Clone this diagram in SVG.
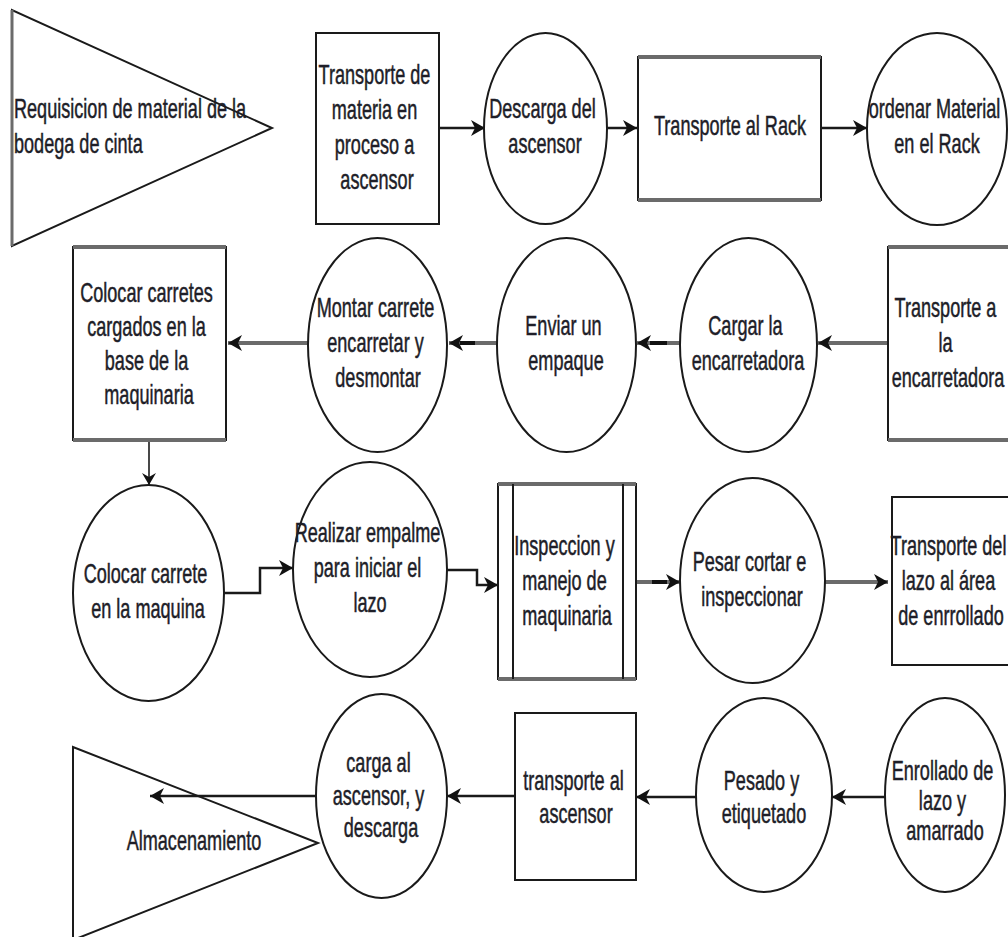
<svg xmlns="http://www.w3.org/2000/svg" width="1008" height="937" viewBox="0 0 1008 937">
  <style>
    .shape { fill: #ffffff; stroke: #1a1a1a; stroke-width: 2; }
    .edge-gray { stroke: #6b6b6b; stroke-width: 4; fill: none; }
    .line { fill: none; stroke: #1a1a1a; stroke-width: 2.5; }
    .gray { fill: none; stroke: #6b6b6b; stroke-width: 4; }
    .dash { fill: none; stroke: #111111; stroke-width: 4; }
    .thin { fill: none; stroke: #1a1a1a; stroke-width: 1.6; }
    .lbl { font-family: "Liberation Sans", Arial, sans-serif; font-size: 27px; fill: #1e1e28; stroke: #1e1e28; stroke-width: 0.5; text-anchor: middle; }
    .lbl-left { text-anchor: start; }
  </style>
  <defs>
    <marker id="arrow" viewBox="0 0 14 16" refX="14" refY="8" markerWidth="14" markerHeight="16" markerUnits="userSpaceOnUse" orient="auto">
      <path d="M0,0 L14,8 L0,16 L4,8 Z" fill="#111111"/>
    </marker>
    <marker id="arrow-small" viewBox="0 0 12 14" refX="12" refY="7" markerWidth="12" markerHeight="14" markerUnits="userSpaceOnUse" orient="auto">
      <path d="M0,0 L12,7 L0,14 L4,7 Z" fill="#111111"/>
    </marker>
  </defs>

  <!-- connectors -->
  <g id="connectors">
    <!-- row 1 -->
    <path class="line" d="M439,128 H485" marker-end="url(#arrow)"/>
    <path class="line" d="M607,128 H637" marker-end="url(#arrow)"/>
    <path class="line" d="M821,128 H867" marker-end="url(#arrow)"/>
    <!-- row 2 (right to left) -->
    <path class="gray" d="M888,343 H818" marker-end="url(#arrow)"/>
    <path class="gray" d="M680,343 H637" marker-end="url(#arrow)"/>
    <path class="dash" d="M650,343 H667"/>
    <path class="gray" d="M497,343 H449" marker-end="url(#arrow)"/>
    <path class="dash" d="M460,343 H475"/>
    <path class="gray" d="M308,343 H228" marker-end="url(#arrow)"/>
    <!-- down to row 3 -->
    <path class="thin" d="M149,440 V485" marker-end="url(#arrow-small)"/>
    <!-- row 3 -->
    <path class="line" d="M224,593 H260 V568 H293" marker-end="url(#arrow)"/>
    <path class="line" d="M447,570 H477 V585 H498" marker-end="url(#arrow)"/>
    <path class="gray" d="M636,582 H680" marker-end="url(#arrow)"/>
    <path class="dash" d="M652,582 H667"/>
    <path class="gray" d="M825,582 H888" marker-end="url(#arrow)"/>
    <!-- row 4 (right to left) -->
    <path class="line" d="M886,797 H832" marker-end="url(#arrow)"/>
    <path class="line" d="M696,797 H636" marker-end="url(#arrow)"/>
    <path class="line" d="M515,796 H447" marker-end="url(#arrow)"/>
    <path class="line" d="M316,796 H150" marker-end="url(#arrow)"/>
  </g>

  <!-- row 1 -->
  <g id="requisicion">
    <polygon points="12,10 12,246 272,128" fill="none" stroke="#1a1a1a" stroke-width="2"/>
    <line x1="12" y1="10" x2="12" y2="246" stroke="#6b6b6b" stroke-width="3"/>
    <text class="lbl lbl-left" transform="translate(14,0) scale(0.67,1)">
      <tspan x="0" y="118">Requisicion de material de la</tspan>
      <tspan x="0" y="153">bodega de cinta</tspan>
    </text>
  </g>

  <g id="transporte-ascensor">
    <rect class="shape" x="316" y="33" width="123" height="191"/>
    <text class="lbl" transform="translate(377,0) scale(0.67,1)">
      <tspan x="0" y="84">Transporte de</tspan>
      <tspan x="0" y="119">materia en</tspan>
      <tspan x="0" y="154">proceso a</tspan>
      <tspan x="0" y="189">ascensor</tspan>
    </text>
  </g>

  <g id="descarga-ascensor">
    <ellipse class="shape" cx="545.5" cy="128.5" rx="61.5" ry="95.5"/>
    <text class="lbl" transform="translate(545,0) scale(0.67,1)">
      <tspan x="0" y="118">Descarga del</tspan>
      <tspan x="0" y="153">ascensor</tspan>
    </text>
  </g>

  <g id="transporte-rack">
    <rect class="shape" x="638" y="57" width="183" height="143"/>
    <line class="edge-gray" x1="638" y1="57" x2="821" y2="57"/>
    <line class="edge-gray" x1="638" y1="200" x2="821" y2="200"/>
    <text class="lbl" transform="translate(730,0) scale(0.67,1)">
      <tspan x="0" y="135">Transporte al Rack</tspan>
    </text>
  </g>

  <g id="ordenar-material">
    <ellipse class="shape" cx="937" cy="129" rx="70" ry="96"/>
    <text class="lbl" transform="translate(937,0) scale(0.67,1)">
      <tspan x="0" y="118">ordenar Material</tspan>
      <tspan x="0" y="153">en el Rack</tspan>
    </text>
  </g>

  <!-- row 2 -->
  <g id="transporte-encarretadora">
    <rect class="shape" x="888" y="247" width="130" height="193"/>
    <line class="edge-gray" x1="888" y1="247" x2="1010" y2="247"/>
    <line class="edge-gray" x1="888" y1="440" x2="1010" y2="440"/>
    <text class="lbl" transform="translate(948,0) scale(0.67,1)">
      <tspan x="0" y="317">Transporte a</tspan>
      <tspan x="0" y="352">la</tspan>
      <tspan x="0" y="387">encarretadora</tspan>
    </text>
  </g>

  <g id="cargar-encarretadora">
    <ellipse class="shape" cx="748.5" cy="345" rx="68.5" ry="107"/>
    <text class="lbl" transform="translate(748,0) scale(0.67,1)">
      <tspan x="0" y="335">Cargar la</tspan>
      <tspan x="0" y="370">encarretadora</tspan>
    </text>
  </g>

  <g id="enviar-empaque">
    <ellipse class="shape" cx="566.5" cy="345" rx="69.5" ry="107"/>
    <text class="lbl" transform="translate(566,0) scale(0.67,1)">
      <tspan x="0" y="335">Enviar un</tspan>
      <tspan x="0" y="370">empaque</tspan>
    </text>
  </g>

  <g id="montar-carrete">
    <ellipse class="shape" cx="377.5" cy="345" rx="69.5" ry="107"/>
    <text class="lbl" transform="translate(378,0) scale(0.67,1)">
      <tspan x="0" y="317">Montar carrete</tspan>
      <tspan x="0" y="352">encarretar y</tspan>
      <tspan x="0" y="387">desmontar</tspan>
    </text>
  </g>

  <g id="colocar-carretes">
    <rect class="shape" x="73" y="247" width="153" height="193"/>
    <line class="edge-gray" x1="73" y1="247" x2="226" y2="247"/>
    <line class="edge-gray" x1="73" y1="440" x2="226" y2="440"/>
    <text class="lbl" transform="translate(149,0) scale(0.67,1)">
      <tspan x="0" y="302">Colocar carretes</tspan>
      <tspan x="0" y="336">cargados en la</tspan>
      <tspan x="0" y="370">base de la</tspan>
      <tspan x="0" y="404">maquinaria</tspan>
    </text>
  </g>

  <!-- row 3 -->
  <g id="colocar-carrete">
    <ellipse class="shape" cx="148.5" cy="593" rx="75.5" ry="108"/>
    <text class="lbl" transform="translate(148,0) scale(0.67,1)">
      <tspan x="0" y="583">Colocar carrete</tspan>
      <tspan x="0" y="618">en la maquina</tspan>
    </text>
  </g>

  <g id="realizar-empalme">
    <ellipse class="shape" cx="370" cy="569.5" rx="77" ry="107.5"/>
    <text class="lbl" transform="translate(370,0) scale(0.67,1)">
      <tspan x="0" y="542">Realizar empalme</tspan>
      <tspan x="0" y="577">para iniciar el</tspan>
      <tspan x="0" y="612">lazo</tspan>
    </text>
  </g>

  <g id="inspeccion-manejo">
    <rect class="shape" x="498" y="484" width="138" height="195"/>
    <line class="edge-gray" x1="498" y1="484" x2="636" y2="484" stroke-width="3"/>
    <line class="edge-gray" x1="498" y1="679" x2="636" y2="679" stroke-width="3"/>
    <line x1="513" y1="484" x2="513" y2="679" stroke="#1a1a1a" stroke-width="2"/>
    <line x1="623" y1="484" x2="623" y2="679" stroke="#1a1a1a" stroke-width="2"/>
    <text class="lbl" transform="translate(567,0) scale(0.67,1)">
      <tspan x="0" y="555">Inspeccion y</tspan>
      <tspan x="0" y="590">manejo de</tspan>
      <tspan x="0" y="625">maquinaria</tspan>
    </text>
  </g>

  <g id="pesar-cortar">
    <ellipse class="shape" cx="752.5" cy="580.5" rx="72.5" ry="102.5"/>
    <text class="lbl" transform="translate(752,0) scale(0.67,1)">
      <tspan x="0" y="571">Pesar cortar e</tspan>
      <tspan x="0" y="606">inspeccionar</tspan>
    </text>
  </g>

  <g id="transporte-lazo">
    <rect class="shape" x="892" y="497" width="126" height="168"/>
    <text class="lbl" transform="translate(951,0) scale(0.67,1)">
      <tspan x="0" y="555">Transporte del</tspan>
      <tspan x="0" y="590">lazo al área</tspan>
      <tspan x="0" y="625">de enrrollado</tspan>
    </text>
  </g>

  <!-- row 4 -->
  <g id="enrollado-lazo">
    <ellipse class="shape" cx="945" cy="795" rx="60" ry="97"/>
    <text class="lbl" transform="translate(945,0) scale(0.67,1)">
      <tspan x="0" y="780">Enrollado de</tspan>
      <tspan x="0" y="810">lazo y</tspan>
      <tspan x="0" y="840">amarrado</tspan>
    </text>
  </g>

  <g id="pesado-etiquetado">
    <ellipse class="shape" cx="764" cy="795" rx="68" ry="97"/>
    <text class="lbl" transform="translate(764,0) scale(0.67,1)">
      <tspan x="0" y="790">Pesado y</tspan>
      <tspan x="0" y="823">etiquetado</tspan>
    </text>
  </g>

  <g id="transporte-al-ascensor">
    <rect class="shape" x="515" y="713" width="121" height="167"/>
    <text class="lbl" transform="translate(576,0) scale(0.67,1)">
      <tspan x="0" y="790">transporte al</tspan>
      <tspan x="0" y="823">ascensor</tspan>
    </text>
  </g>

  <g id="carga-ascensor">
    <ellipse class="shape" cx="381.5" cy="796" rx="65.5" ry="102"/>
    <text class="lbl" transform="translate(381,0) scale(0.67,1)">
      <tspan x="0" y="772">carga al</tspan>
      <tspan x="0" y="805">ascensor, y</tspan>
      <tspan x="0" y="837">descarga</tspan>
    </text>
  </g>

  <g id="almacenamiento">
    <polygon points="73,747 73,940 318,843" fill="none" stroke="#1a1a1a" stroke-width="2"/>
    <text class="lbl" transform="translate(194,0) scale(0.67,1)">
      <tspan x="0" y="850">Almacenamiento</tspan>
    </text>
  </g>
</svg>
